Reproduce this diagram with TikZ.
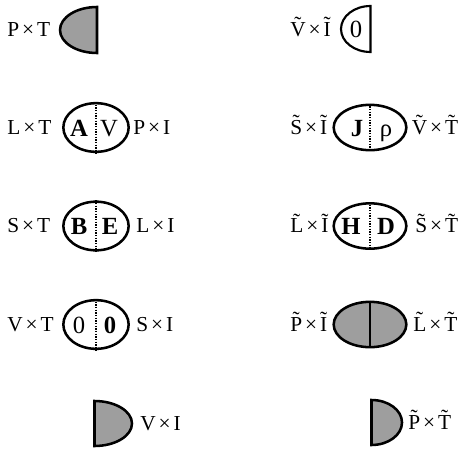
\documentclass[tikz,border=0pt]{standalone}
\usepackage{fontspec}
\setmainfont{Liberation Serif}
\usetikzlibrary{shapes.geometric, positioning}
% tilde over a capital
\newcommand{\tl}[1]{\leavevmode\setbox0=\hbox{#1}\rlap{\hbox to \wd0{\hss\raisebox{0.2em}{\char"02DC}\hss}}\box0}
\newcommand{\by}{\hspace{0.14em}×\hspace{0.14em}}
\definecolor{stip}{gray}{0.62}
\tikzset{
  lab/.style={font=\fontsize{16}{18}\selectfont, inner sep=0pt, anchor=base west},
  big/.style={font=\fontsize{18.5}{20}\selectfont, inner sep=0pt, anchor=base},
  lpair/.style={draw, ellipse, inner sep=0pt, line width=1.9pt, minimum width=49pt, minimum height=36.5pt},
  rpair/.style={draw, ellipse, inner sep=0pt, line width=1.9pt, minimum width=54.5pt, minimum height=34pt},
  split/.style={line width=1pt, densely dotted},
  half/.style={draw, line width=1.9pt, fill=stip},
}
\begin{document}
\begin{tikzpicture}[x=0.75pt, y=0.75pt]
  \useasboundingbox (0,0) rectangle (459,451);

  % left column
  \coordinate (h1) at (97,421);
  \draw[half] (h1) ++(0,23) arc[start angle=90, end angle=270, x radius=37, y radius=23] -- cycle;
  \node[lab] (l1) at (7,414.8) {P\by T};

  \node[lpair] (e2) at (96,323.5) {};
  \draw[split] (e2.north) -- (e2.south);
  \node[big] (e2a) at (79,315) {\textbf{A}};
  \node[big] (e2b) at (109,315) {V};
  \node[lab] (l2) at (7,317) {L\by T};
  \node[lab] (r2) at (133,317) {P\by I};

  \node[lpair] (e3) at (96,225) {};
  \draw[split] (e3.north) -- (e3.south);
  \node[big] (e3a) at (79,216.5) {\textbf{B}};
  \node[big] (e3b) at (110,216.5) {\textbf{E}};
  \node[lab] (l3) at (7,218.5) {S\by T};
  \node[lab] (r3) at (136,218.5) {L\by I};

  \node[lpair] (e4) at (96,126.5) {};
  \draw[split] (e4.north) -- (e4.south);
  \node[big] (e4a) at (79,118) {0};
  \node[big] (e4b) at (110,118) {\textbf{0}};
  \node[lab] (l4) at (7,120) {V\by T};
  \node[lab] (r4) at (136,120) {S\by I};

  \coordinate (h5) at (94.5,27.5);
  \draw[half] (h5) ++(0,22.5) arc[start angle=90, end angle=-90, x radius=37.5, y radius=22.5] -- cycle;
  \node[lab] (r5) at (140,21) {V\by I};

  % right column
  \coordinate (k1) at (370.5,422);
  \draw[half, fill=none, line width=1.6pt] (k1) ++(0,23) arc[start angle=90, end angle=270, x radius=29.5, y radius=23] -- cycle;
  \node[big] (k1a) at (356,413.5) {0};
  \node[lab] (m1) at (290,414.8) {\tl{V}\by\tl{I}};

  \node[rpair] (f2) at (370,323.5) {};
  \draw[split] (f2.north) -- (f2.south);
  \node[big] (f2a) at (357,315) {\textbf{J}};
  \node[big] (f2b) at (386,315) {ρ};
  \node[lab] (m2) at (290,317) {\tl{S}\by\tl{I}};
  \node[lab, anchor=base east] (n2) at (458.5,317) {\tl{V}\by\tl{T}};

  \node[rpair] (f3) at (370,225) {};
  \draw[split] (f3.north) -- (f3.south);
  \node[big] (f3a) at (351,216.5) {\textbf{H}};
  \node[big] (f3b) at (386,216.5) {\textbf{D}};
  \node[lab] (m3) at (290,218.5) {\tl{L}\by\tl{I}};
  \node[lab, anchor=base east] (n3) at (458.5,218.5) {\tl{S}\by\tl{T}};

  \node[rpair, fill=stip] (f4) at (370,126.5) {};
  \draw[line width=1.6pt] (f4.north) -- (f4.south);
  \node[lab] (m4) at (290,120) {\tl{P}\by\tl{I}};
  \node[lab] (n4) at (413,120) {\tl{L}\by\tl{T}};

  \coordinate (k5) at (371.5,28.5);
  \draw[half] (k5) ++(0,22.5) arc[start angle=90, end angle=-90, x radius=30.5, y radius=22.5] -- cycle;
  \node[lab] (n5) at (408,22) {\tl{P}\by\tl{T}};
\end{tikzpicture}
\end{document}
